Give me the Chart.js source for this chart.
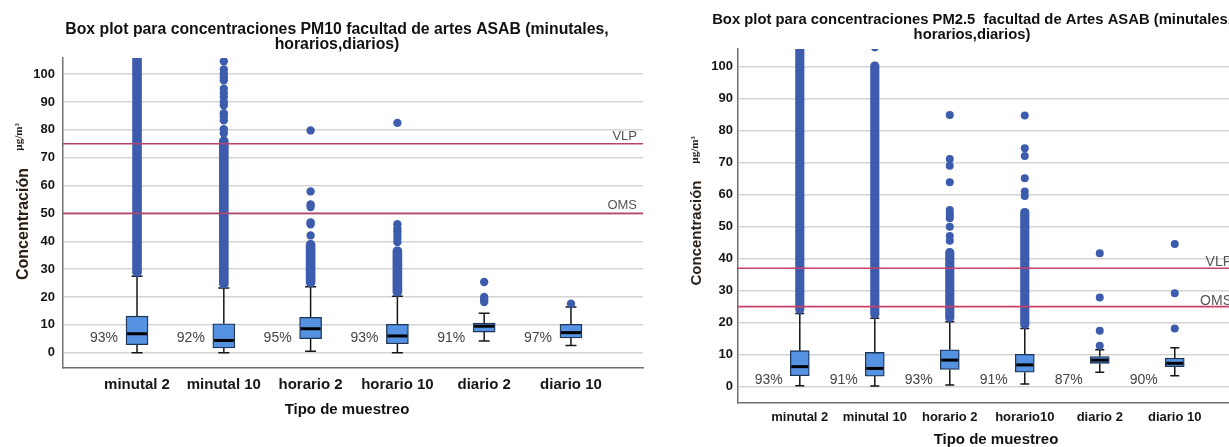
<!DOCTYPE html>
<html>
<head>
<meta charset="utf-8">
<script src="https://cdn.jsdelivr.net/npm/chart.js@4"></script>
<style>
  html, body { margin: 0; padding: 0; background: #fff; width: 1229px; height: 447px; overflow: hidden; }
  #left { position: absolute; left: 0; top: 0; width: 674px; height: 447px; }
  #right { position: absolute; left: 660px; top: 0; width: 600px; height: 447px; }
</style>
</head>
<body>
<div id="left"><canvas id="pm10"></canvas></div>
<div id="right"><canvas id="pm25"></canvas></div>
<script>
const FONT = "'Liberation Sans', Arial, sans-serif";

const yTicks = [0, 10, 20, 30, 40, 50, 60, 70, 80, 90, 100];

// PM10 - facultad de artes ASAB
const labels10 = ["minutal 2", "minutal 10", "horario 2", "horario 10", "diario 2", "diario 10"];
const min10 = [0, 0, 0.5, 0, 4.2, 2.6];
const q1_10 = [2.9, 1.7, 5.0, 3.2, 7.4, 5.3];
const med10 = [6.8, 4.4, 8.6, 6.0, 9.5, 7.2];
const q3_10 = [13.1, 10.4, 12.7, 10.2, 10.6, 10.2];
const max10 = [27.4, 23.2, 23.7, 20.3, 14.2, 16.4];
// dense runs of outliers (read as continuous columns)
const denseLo10 = [27.4, 23.2, 23.7, 20.3, null, null];
const denseHi10 = [120, 77.5, 40.3, 38, null, null];
const outliers10 = [
  [],
  [78.8, 80.2, 83.4, 84.8, 86, 88.8, 90, 91.8, 93.2, 94.8, 97.8, 99, 100.2, 101.7, 104.6],
  [42.1, 46.1, 46.8, 52.3, 53.2, 57.9, 79.8],
  [39.7, 41, 42.3, 43.5, 44.6, 46.1, 82.5],
  [18.2, 19.2, 20.0, 25.4],
  [17.6]
];
const pct10 = ["93%", "92%", "95%", "93%", "91%", "97%"];
const limits10 = [75, 50];

// PM2.5 - facultad de Artes ASAB
const labels25 = ["minutal 2", "minutal 10", "horario 2", "horario10", "diario 2", "diario 10"];
const min25 = [0.3, 0.2, 0.5, 0.8, 4.5, 3.4];
const q1_25 = [3.4, 3.3, 5.4, 4.5, 7.3, 6.25];
const med25 = [6.25, 5.7, 8.3, 6.8, 8.3, 7.3];
const q3_25 = [11.25, 10.7, 11.5, 10.1, 9.4, 8.9];
const max25 = [22.9, 21.4, 20.3, 18.2, 11.5, 12.2];
const denseLo25 = [22.9, 21.4, 20.3, 18.2, null, null];
const denseHi25 = [120, 101.5, 43.2, 55.7, null, null];
const outliers25 = [
  [],
  [106],
  [45.6, 47.1, 50, 52.6, 53.5, 54.3, 55.2, 63.9, 69, 71.1, 84.9],
  [59.6, 61, 65.1, 72.1, 74.5, 84.7],
  [12.8, 17.5, 27.9, 41.7],
  [18.2, 29.2, 44.6]
];
const pct25 = ["93%", "91%", "93%", "91%", "87%", "90%"];
const limits25 = [37, 25];

const limitNames = ["VLP", "OMS"];

// whiskers, medians, limit lines and all the loose text
function boxDecor(d, s) {
  return {
    id: 'boxDecor',
    beforeDatasetsDraw(chart) {
      const { ctx, scales: { x, y } } = chart;
      ctx.save();
      ctx.strokeStyle = '#161616';
      ctx.lineWidth = 1.5;
      d.min.forEach((lo, i) => {
        const px = x.getPixelForValue(i + 1);
        const yLo = y.getPixelForValue(lo), yHi = y.getPixelForValue(d.max[i]);
        ctx.beginPath();
        ctx.moveTo(px, yLo); ctx.lineTo(px, y.getPixelForValue(d.q1[i]));
        ctx.moveTo(px, y.getPixelForValue(d.q3[i])); ctx.lineTo(px, yHi);
        ctx.moveTo(px - s.capW / 2, yLo); ctx.lineTo(px + s.capW / 2, yLo);
        ctx.moveTo(px - s.capW / 2, yHi); ctx.lineTo(px + s.capW / 2, yHi);
        ctx.stroke();
      });
      ctx.restore();
    },
    afterDatasetsDraw(chart) {
      const { ctx, chartArea: a, scales: { x, y } } = chart;
      ctx.save();
      // medians
      ctx.strokeStyle = '#000';
      ctx.lineWidth = 3;
      d.med.forEach((m, i) => {
        const px = x.getPixelForValue(i + 1), py = y.getPixelForValue(m);
        ctx.beginPath();
        ctx.moveTo(px - s.boxW / 2 + 1, py); ctx.lineTo(px + s.boxW / 2 - 1, py);
        ctx.stroke();
      });
      // limit lines
      ctx.strokeStyle = s.limitColor;
      ctx.lineWidth = 1.6;
      ctx.fillStyle = '#555';
      ctx.font = s.limitFont + 'px ' + FONT;
      ctx.textAlign = 'right';
      ctx.textBaseline = 'alphabetic';
      d.limits.forEach((v, i) => {
        const py = y.getPixelForValue(v);
        ctx.beginPath();
        ctx.moveTo(a.left, py); ctx.lineTo(a.right, py);
        ctx.stroke();
        ctx.fillText(limitNames[i], a.right - s.limitInset, py - s.limitGap);
      });
      // percentages
      ctx.fillStyle = '#444';
      ctx.font = '14px ' + FONT;
      ctx.textAlign = 'center';
      ctx.textBaseline = 'middle';
      d.pct.forEach((t, i) => {
        ctx.fillText(t, x.getPixelForValue(i + 1) - s.pctOffset, y.getPixelForValue(s.pctY));
      });
      ctx.restore();
    },
    afterDraw(chart) {
      const ctx = chart.ctx;
      ctx.save();
      ctx.textAlign = 'center';
      ctx.textBaseline = 'middle';
      ctx.fillStyle = '#111';
      ctx.font = 'bold ' + s.titleFont + 'px ' + FONT;
      ctx.fillText(d.title[0], s.titleX, s.titleY[0]);
      ctx.fillText(d.title[1], s.titleX, s.titleY[1]);
      ctx.font = 'bold 15px ' + FONT;
      ctx.fillText('Tipo de muestreo', s.xTitle[0], s.xTitle[1]);
      ctx.fillStyle = '#2a2018';
      ctx.translate(s.yTitle[0], s.yTitle[1]);
      ctx.rotate(-Math.PI / 2);
      ctx.font = 'bold ' + s.yTitleFont + 'px ' + FONT;
      ctx.fillText('Concentración', 0, 0);
      ctx.font = 'bold 11px "Liberation Serif", serif';
      ctx.fillText('µg/m³', s.unitShift[0], s.unitShift[1]);
      ctx.restore();
    }
  };
}

function makeBoxChart(id, d, s) {
  const pos = d.labels.map((_, i) => i + 1);
  const dense = [];
  d.denseLo.forEach((lo, i) => { if (lo !== null) dense.push({ x: i + 1, y: [lo, d.denseHi[i]] }); });
  const pts = [];
  d.outliers.forEach((list, i) => list.forEach(v => pts.push({ x: i + 1, y: v })));

  return new Chart(document.getElementById(id), {
    type: 'bar',
    data: {
      datasets: [
        {
          type: 'bar',
          data: pos.map((p, i) => ({ x: p, y: [d.q1[i], d.q3[i]] })),
          backgroundColor: '#5593e2',
          borderColor: '#1d3457',
          borderWidth: 1.3,
          borderSkipped: false,
          barThickness: s.boxW,
          grouped: false,
          order: 1
        },
        {
          type: 'bar',
          data: dense,
          backgroundColor: '#3d5cad',
          borderWidth: 0,
          borderRadius: s.bandW / 2,
          borderSkipped: false,
          barThickness: s.bandW,
          grouped: false,
          order: 2
        },
        {
          type: 'scatter',
          data: pts,
          pointRadius: s.pointR,
          pointBackgroundColor: '#3d5cad',
          pointBorderWidth: 0,
          order: 3
        }
      ]
    },
    options: {
      responsive: true,
      maintainAspectRatio: false,
      animation: false,
      events: [],
      layout: { padding: s.padding },
      plugins: {
        legend: { display: false },
        title: { display: false },
        tooltip: { enabled: false }
      },
      scales: {
        x: {
          type: 'linear',
          min: s.xMin,
          max: s.xMax,
          offset: false,
          afterBuildTicks: sc => { sc.ticks = pos.map(v => ({ value: v })); },
          afterFit: sc => { sc.height = s.xHeight; },
          grid: { display: false, drawTicks: false },
          border: { display: true, color: '#707070', width: 1.5 },
          ticks: {
            autoSkip: false,
            maxRotation: 0,
            padding: s.xPad,
            color: '#161616',
            font: { family: FONT, size: s.xFont, weight: 'bold' },
            callback: v => d.labels[v - 1] || ''
          }
        },
        y: {
          type: 'linear',
          min: s.yMin,
          max: s.yMax,
          afterBuildTicks: sc => { sc.ticks = yTicks.map(v => ({ value: v })); },
          afterFit: sc => { sc.width = s.yWidth; },
          grid: { color: '#d4d4d4', lineWidth: 1.5, drawTicks: false },
          border: { display: true, color: '#707070', width: 1.5 },
          ticks: {
            padding: s.yPad,
            color: '#161616',
            font: { family: FONT, size: 13, weight: 'bold' },
            callback: v => v
          }
        }
      }
    },
    plugins: [boxDecor(d, s)]
  });
}

makeBoxChart('pm10', {
  labels: labels10, min: min10, q1: q1_10, med: med10, q3: q3_10, max: max10,
  denseLo: denseLo10, denseHi: denseHi10, outliers: outliers10, pct: pct10, limits: limits10,
  title: ["Box plot para concentraciones PM10 facultad de artes ASAB (minutales,", "horarios,diarios)"]
}, {
  padding: { top: 58, right: 31, left: 0, bottom: 0 },
  yWidth: 63, xHeight: 79, xMin: 0.147, xMax: 6.83, yMin: -5.5, yMax: 105.8,
  boxW: 22, capW: 11, bandW: 9, pointR: 4.2,
  xFont: 15, xPad: 8, yPad: 8,
  titleFont: 15.8, titleX: 337, titleY: [30, 45],
  xTitle: [347, 410], yTitle: [24, 224], yTitleFont: 16, unitShift: [87, -5],
  limitColor: '#b5446e', limitFont: 13, limitInset: 6, limitGap: 4,
  pctOffset: 33, pctY: 5.1
});

makeBoxChart('pm25', {
  labels: labels25, min: min25, q1: q1_25, med: med25, q3: q3_25, max: max25,
  denseLo: denseLo25, denseHi: denseHi25, outliers: outliers25, pct: pct25, limits: limits25,
  title: ["Box plot para concentraciones PM2.5  facultad de Artes ASAB (minutales,", "horarios,diarios)"]
}, {
  padding: { top: 49, right: 23, left: 0, bottom: 0 },
  yWidth: 78, xHeight: 44, xMin: 0.176, xMax: 6.83, yMin: -5.1, yMax: 105.5,
  boxW: 19, capW: 9, bandW: 8.5, pointR: 4,
  xFont: 13, xPad: 7, yPad: 5,
  titleFont: 14.8, titleX: 312, titleY: [20, 35],
  xTitle: [336, 440], yTitle: [37, 233], yTitleFont: 15, unitShift: [83, -2],
  limitColor: '#cc3f66', limitFont: 14, limitInset: 5, limitGap: 2,
  pctOffset: 31, pctY: 2.0
});
</script>
</body>
</html>
